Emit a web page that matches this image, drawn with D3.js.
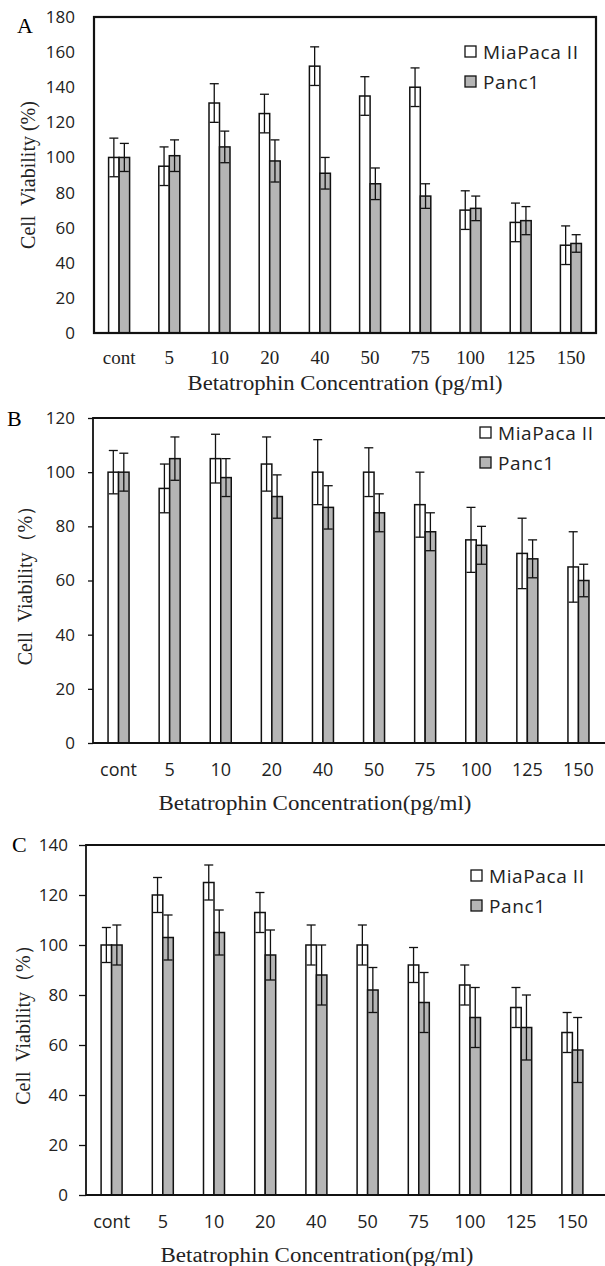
<!DOCTYPE html>
<html>
<head>
<meta charset="utf-8">
<script src="https://cdn.jsdelivr.net/npm/d3@7"></script>
<style>
  body { margin: 0; background: #fff; }
</style>
</head>
<body>
<div id="chart"></div>
<script>
const categories = ["cont", "5", "10", "20", "40", "50", "75", "100", "125", "150"];
const seriesNames = ["MiaPaca II", "Panc1"];

// panel A
const miaA    = [100, 95, 131, 125, 152, 135, 140, 70, 63, 50];
const miaAErr = [11, 11, 11, 11, 11, 11, 11, 11, 11, 11];
const panA    = [100, 101, 106, 98, 91, 85, 78, 71, 64, 51];
const panAErr = [8, 9, 9, 12, 9, 9, 7, 7, 8, 5];
const ticksA  = [0, 20, 40, 60, 80, 100, 120, 140, 160, 180];

// panel B
const miaB    = [100, 94, 105, 103, 100, 100, 88, 75, 70, 65];
const miaBErr = [8, 9, 9, 10, 12, 9, 12, 12, 13, 13];
const panB    = [100, 105, 98, 91, 87, 85, 78, 73, 68, 60];
const panBErr = [7, 8, 7, 8, 8, 7, 7, 7, 7, 6];
const ticksB  = [0, 20, 40, 60, 80, 100, 120];

// panel C
const miaC    = [100, 120, 125, 113, 100, 100, 92, 84, 75, 65];
const miaCErr = [7, 7, 7, 8, 8, 8, 7, 8, 8, 8];
const panC    = [100, 103, 105, 96, 88, 82, 77, 71, 67, 58];
const panCErr = [8, 9, 9, 10, 12, 9, 12, 12, 13, 13];
const ticksC  = [0, 20, 40, 60, 80, 100, 120, 140];

const width = 605, height = 1266;
const serif = "'Times New Roman', 'Liberation Serif', 'DejaVu Serif', serif";
const sans = "'Open Sans', 'Noto Sans', sans-serif";
const fills = { "MiaPaca II": "#fff", "Panc1": "#b5b5b5" };
const barW = 10.5;

const svg = d3.select("#chart")
  .append("svg")
  .attr("width", width)
  .attr("height", height)
  .attr("viewBox", [0, 0, width, height]);

const panels = [
  { letter: "A", lx: 17, ly: 33, left: 94, right: 596, top: 17, bottom: 333, yMax: 180,
    mia: miaA, miaErr: miaAErr, pan: panA, panErr: panAErr, ticks: ticksA,
    box: true, tickLen: 0, tickPad: 19, xFont: serif, xSize: 19, xPad: 18,
    yTitle: "Cell  Viability (%)", yTitleX: 28, xTitle: "Betatrophin Concentration (pg/ml)",
    xTitleX: 345, xTitleY: 390, xTitleLen: 315, legX: 465, legY: 52 },
  { letter: "B", lx: 7, ly: 426, left: 93, right: 604, top: 418, bottom: 743, yMax: 120,
    mia: miaB, miaErr: miaBErr, pan: panB, panErr: panBErr, ticks: ticksB,
    box: false, tickLen: 5, tickPad: 13, xFont: sans, xSize: 18, xPad: 20,
    yTitle: "Cell  Viability（%）", yTitleX: 25, xTitle: "Betatrophin Concentration(pg/ml)",
    xTitleX: 315, xTitleY: 810, xTitleLen: 313, legX: 480, legY: 433 },
  { letter: "C", lx: 12, ly: 852, left: 86, right: 598, top: 845, bottom: 1195, yMax: 140,
    mia: miaC, miaErr: miaCErr, pan: panC, panErr: panCErr, ticks: ticksC,
    box: false, tickLen: 7, tickPad: 11, xFont: sans, xSize: 18, xPad: 20,
    yTitle: "Cell  Viability（%）", yTitleX: 23, xTitle: "Betatrophin Concentration(pg/ml)",
    xTitleX: 317, xTitleY: 1262, xTitleLen: 313, legX: 471, legY: 876 }
];

panels.forEach(p => drawPanel(p));

function drawPanel(p) {
  const g = svg.append("g");

  const x0 = d3.scaleBand()
    .domain(categories)
    .range([p.left, p.right]);

  const x1 = d3.scaleBand()
    .domain(seriesNames)
    .range([-barW, barW]);

  const y = d3.scaleLinear()
    .domain([0, p.yMax])
    .range([p.bottom, p.top]);

  const rows = categories.map((c, i) => [
    { cat: c, s: "MiaPaca II", v: p.mia[i], e: p.miaErr[i] },
    { cat: c, s: "Panc1", v: p.pan[i], e: p.panErr[i] }
  ]).flat();

  const cx = d => x0(d.cat) + x0.bandwidth() / 2 + x1(d.s);

  // bars
  g.selectAll("rect.bar")
    .data(rows)
    .join("rect")
    .attr("class", "bar")
    .attr("x", d => cx(d))
    .attr("y", d => y(d.v))
    .attr("width", x1.bandwidth())
    .attr("height", d => y(0) - y(d.v))
    .attr("fill", d => fills[d.s])
    .attr("stroke", "#111")
    .attr("stroke-width", 1.5);

  // error bars (up and down, caps both ends)
  const err = g.selectAll("g.err")
    .data(rows)
    .join("g")
    .attr("class", "err")
    .attr("stroke", "#111")
    .attr("stroke-width", 1.3);

  const mid = d => cx(d) + x1.bandwidth() / 2;
  err.append("line")
    .attr("x1", mid).attr("x2", mid)
    .attr("y1", d => y(d.v - d.e)).attr("y2", d => y(d.v + d.e));
  err.append("line")
    .attr("x1", d => mid(d) - 4.5).attr("x2", d => mid(d) + 4.5)
    .attr("y1", d => y(d.v + d.e)).attr("y2", d => y(d.v + d.e));
  err.append("line")
    .attr("x1", d => mid(d) - 4.5).attr("x2", d => mid(d) + 4.5)
    .attr("y1", d => y(d.v - d.e)).attr("y2", d => y(d.v - d.e));

  // y axis
  const ya = g.append("g")
    .attr("transform", `translate(${p.left},0)`)
    .call(d3.axisLeft(y).tickValues(p.ticks).tickSize(p.tickLen).tickPadding(p.tickPad).tickSizeOuter(0));
  ya.select(".domain").remove();
  ya.selectAll("line").attr("stroke", "#111").attr("stroke-width", 1.3);
  ya.selectAll("text").attr("font-family", sans).attr("font-size", 17).attr("fill", "#222");

  // x axis
  const xa = g.append("g")
    .attr("transform", `translate(0,${p.bottom})`)
    .call(d3.axisBottom(x0).tickSize(0).tickPadding(p.xPad));
  xa.select(".domain").remove();
  xa.selectAll("text").attr("font-family", p.xFont).attr("font-size", p.xSize).attr("fill", "#222");

  // frame
  if (p.box) {
    g.append("rect")
      .attr("x", p.left).attr("y", p.top)
      .attr("width", p.right - p.left).attr("height", p.bottom - p.top)
      .attr("fill", "none").attr("stroke", "#111").attr("stroke-width", 2.2);
  } else {
    g.append("path")
      .attr("d", `M${width},${p.top}H${p.left}V${p.bottom}H${width}`)
      .attr("fill", "none").attr("stroke", "#111").attr("stroke-width", 1.8);
  }

  // panel letter
  g.append("text")
    .attr("x", p.lx).attr("y", p.ly)
    .attr("font-family", serif).attr("font-size", 22)
    .text(p.letter);

  // axis titles
  g.append("text")
    .attr("transform", `translate(${p.yTitleX},${(p.top + p.bottom) / 2}) rotate(-90)`)
    .attr("text-anchor", "middle")
    .attr("dy", "0.35em")
    .attr("font-family", serif).attr("font-size", 20)
    .attr("fill", "#222")
    .style("white-space", "pre")
    .text(p.yTitle);

  g.append("text")
    .attr("x", p.xTitleX).attr("y", p.xTitleY)
    .attr("text-anchor", "middle")
    .attr("font-family", serif).attr("font-size", 20)
    .attr("textLength", p.xTitleLen)
    .attr("lengthAdjust", "spacingAndGlyphs")
    .attr("fill", "#222")
    .text(p.xTitle);

  // legend
  const leg = g.selectAll("g.leg")
    .data(seriesNames)
    .join("g")
    .attr("class", "leg")
    .attr("transform", (d, i) => `translate(${p.legX},${p.legY + i * 30})`);
  leg.append("rect")
    .attr("x", 0).attr("y", -6)
    .attr("width", 11).attr("height", 11)
    .attr("fill", d => fills[d])
    .attr("stroke", "#111").attr("stroke-width", 1.3);
  leg.append("text")
    .attr("x", 18).attr("dy", "0.35em")
    .attr("font-family", sans).attr("font-size", 19)
    .attr("letter-spacing", 0.6)
    .attr("fill", "#222")
    .text(d => d);
}
</script>
</body>
</html>
